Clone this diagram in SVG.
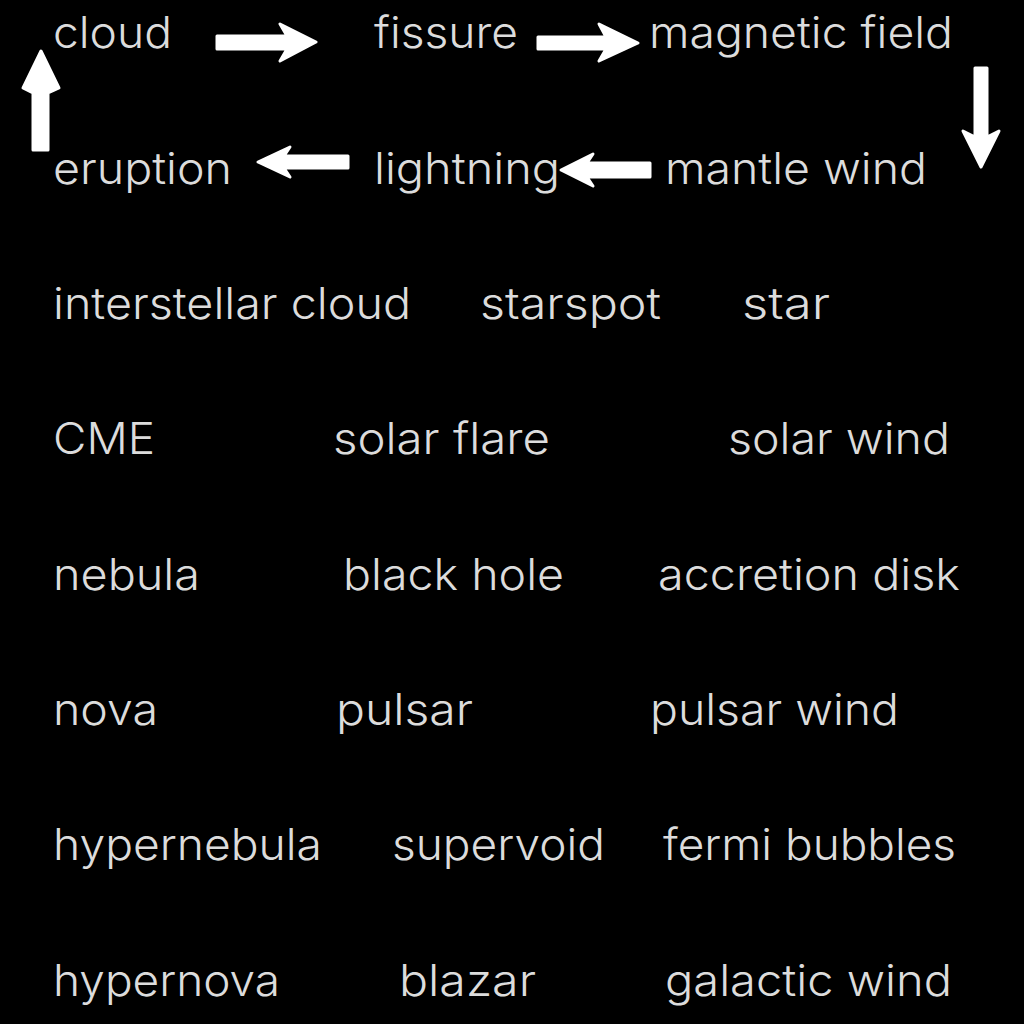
<svg xmlns="http://www.w3.org/2000/svg" width="1024" height="1024" viewBox="0 0 1024 1024">
<style>
.t{font-family:Inter,"Noto Sans","Liberation Sans",sans-serif;font-size:44px;font-weight:300;fill:#dcdcdc;}
.a{fill:#ffffff;stroke:#ffffff;stroke-width:3;stroke-linejoin:round;}
</style>
<rect width="1024" height="1024" fill="#000000"/>
<g id="connectors">
<path class="a" d="M217,36 H287 L280,24 L316,42 L280,61 L287,49 H217 Z"/>
<path class="a" d="M538,37 H606 L599,24 L638,43 L599,61 L606,49 H538 Z"/>
<path class="a" d="M975,68 V137 L963,131 L981,167 L999,131 L987,137 V68 Z"/>
<path class="a" d="M650,163 H587 L593,154 L561,170 L593,186 L587,177 H650 Z"/>
<path class="a" d="M348,156 H284 L290,147 L258,162 L290,177 L284,168 H348 Z"/>
<path class="a" d="M33,150 V93 L23,88 L41,51 L59,88 L48,93 V150 Z"/>
</g>
<g id="n-cloud"><text class="t" x="53" y="48" textLength="119" lengthAdjust="spacingAndGlyphs">cloud</text></g>
<g id="n-fissure"><text class="t" x="374" y="48" textLength="144" lengthAdjust="spacingAndGlyphs">fissure</text></g>
<g id="n-magnetic-field"><text class="t" x="649" y="48" textLength="304" lengthAdjust="spacingAndGlyphs">magnetic field</text></g>
<g id="n-eruption"><text class="t" x="53" y="184" textLength="179" lengthAdjust="spacingAndGlyphs">eruption</text></g>
<g id="n-lightning"><text class="t" x="374" y="184" textLength="186" lengthAdjust="spacingAndGlyphs">lightning</text></g>
<g id="n-mantle-wind"><text class="t" x="665" y="184" textLength="262" lengthAdjust="spacingAndGlyphs">mantle wind</text></g>
<g id="n-interstellar-cloud"><text class="t" x="53" y="319" textLength="358" lengthAdjust="spacingAndGlyphs">interstellar cloud</text></g>
<g id="n-starspot"><text class="t" x="480" y="319" textLength="181" lengthAdjust="spacingAndGlyphs">starspot</text></g>
<g id="n-star"><text class="t" x="742" y="319" textLength="88" lengthAdjust="spacingAndGlyphs">star</text></g>
<g id="n-cme"><text class="t" x="53" y="454" textLength="102" lengthAdjust="spacingAndGlyphs">CME</text></g>
<g id="n-solar-flare"><text class="t" x="333" y="454" textLength="217" lengthAdjust="spacingAndGlyphs">solar flare</text></g>
<g id="n-solar-wind"><text class="t" x="728" y="454" textLength="222" lengthAdjust="spacingAndGlyphs">solar wind</text></g>
<g id="n-nebula"><text class="t" x="53" y="590" textLength="147" lengthAdjust="spacingAndGlyphs">nebula</text></g>
<g id="n-black-hole"><text class="t" x="343" y="590" textLength="221" lengthAdjust="spacingAndGlyphs">black hole</text></g>
<g id="n-accretion-disk"><text class="t" x="658" y="590" textLength="302" lengthAdjust="spacingAndGlyphs">accretion disk</text></g>
<g id="n-nova"><text class="t" x="53" y="725" textLength="105" lengthAdjust="spacingAndGlyphs">nova</text></g>
<g id="n-pulsar"><text class="t" x="336" y="725" textLength="137" lengthAdjust="spacingAndGlyphs">pulsar</text></g>
<g id="n-pulsar-wind"><text class="t" x="650" y="725" textLength="249" lengthAdjust="spacingAndGlyphs">pulsar wind</text></g>
<g id="n-hypernebula"><text class="t" x="53" y="860" textLength="269" lengthAdjust="spacingAndGlyphs">hypernebula</text></g>
<g id="n-supervoid"><text class="t" x="392" y="860" textLength="213" lengthAdjust="spacingAndGlyphs">supervoid</text></g>
<g id="n-fermi-bubbles"><text class="t" x="663" y="860" textLength="293" lengthAdjust="spacingAndGlyphs">fermi bubbles</text></g>
<g id="n-hypernova"><text class="t" x="53" y="996" textLength="227" lengthAdjust="spacingAndGlyphs">hypernova</text></g>
<g id="n-blazar"><text class="t" x="399" y="996" textLength="137" lengthAdjust="spacingAndGlyphs">blazar</text></g>
<g id="n-galactic-wind"><text class="t" x="665" y="996" textLength="287" lengthAdjust="spacingAndGlyphs">galactic wind</text></g>
</svg>
